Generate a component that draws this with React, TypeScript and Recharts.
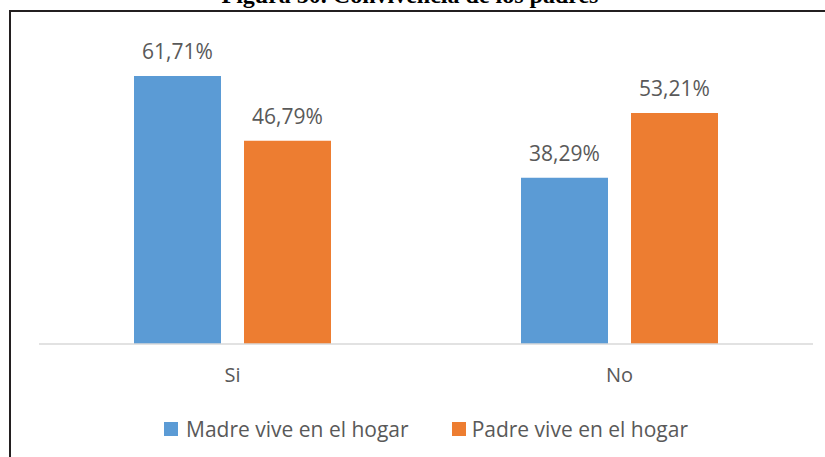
import React from "react";
import { BarChart, Bar, XAxis, YAxis, Legend, LabelList } from "recharts";

const categories = ["Si", "No"];
const madre = [61.71, 38.29];
const padre = [46.79, 53.21];
const seriesNames = ["Madre vive en el hogar", "Padre vive en el hogar"];
const colors = ["#5b9bd5", "#ed7d31"];
const title = "Figura 50. Convivencia de los padres";

const data = categories.map((c, i) => ({ name: c, madre: madre[i], padre: padre[i] }));

const fmt = (v: number) => v.toFixed(2).replace(".", ",") + "%";

const LegendContent = () => (
  <div
    style={{
      display: "flex",
      justifyContent: "center",
      alignItems: "center",
      height: 30,
      lineHeight: "30px",
      fontFamily: "'Open Sans', sans-serif",
      fontSize: 21,
      color: "#595959",
    }}
  >
    {seriesNames.map((n, i) => (
      <div key={n} style={{ display: "flex", alignItems: "center", marginRight: i === 0 ? 43 : 0 }}>
        <div style={{ width: 14, height: 14, background: colors[i], marginRight: i === 0 ? 8 : 6 }} />
        <span>{n}</span>
      </div>
    ))}
  </div>
);

export default function App() {
  return (
    <div style={{ position: "absolute", left: 0, top: 0, width: 825, height: 457, overflow: "hidden", background: "#fff" }}>
      <div
        style={{
          position: "absolute",
          left: 0,
          width: 825,
          top: -17,
          height: 24,
          lineHeight: "24px",
          fontSize: 24,
          fontWeight: "bold",
          fontFamily: "'Liberation Serif', serif",
          textAlign: "center",
          color: "#000",
          paddingRight: 5,
          boxSizing: "border-box",
        }}
      >
        {title}
      </div>
      <div
        style={{
          position: "absolute",
          left: 9,
          top: 10,
          width: 900,
          height: 600,
          borderLeft: "2px solid #231f20",
          borderTop: "2px solid #231f20",
        }}
      />
      <div style={{ position: "absolute", left: 0, top: 0 }}>
        <BarChart
          width={825}
          height={457}
          data={data}
          margin={{ top: 40, right: 12, left: 39, bottom: 13 }}
          barGap={23}
        >
          <XAxis
            dataKey="name"
            height={70}
            tickSize={0}
            tickMargin={24}
            axisLine={{ stroke: "#d9d9d9", strokeWidth: 1.5 }}
            tickLine={false}
            tick={{ fill: "#595959", fontSize: 20, fontFamily: "'Open Sans', sans-serif" }}
          />
          <YAxis hide domain={[0, 70]} />
          <Legend verticalAlign="bottom" content={<LegendContent />} />
          <Bar dataKey="madre" name={seriesNames[0]} fill={colors[0]} barSize={87} isAnimationActive={false}>
            <LabelList
              dataKey="madre"
              position="top"
              offset={17}
              formatter={(v: any) => fmt(Number(v))}
              style={{ fill: "#595959", fontSize: 21, fontFamily: "'Open Sans', sans-serif" }}
            />
          </Bar>
          <Bar dataKey="padre" name={seriesNames[1]} fill={colors[1]} barSize={87} isAnimationActive={false}>
            <LabelList
              dataKey="padre"
              position="top"
              offset={17}
              formatter={(v: any) => fmt(Number(v))}
              style={{ fill: "#595959", fontSize: 21, fontFamily: "'Open Sans', sans-serif" }}
            />
          </Bar>
        </BarChart>
      </div>
    </div>
  );
}
